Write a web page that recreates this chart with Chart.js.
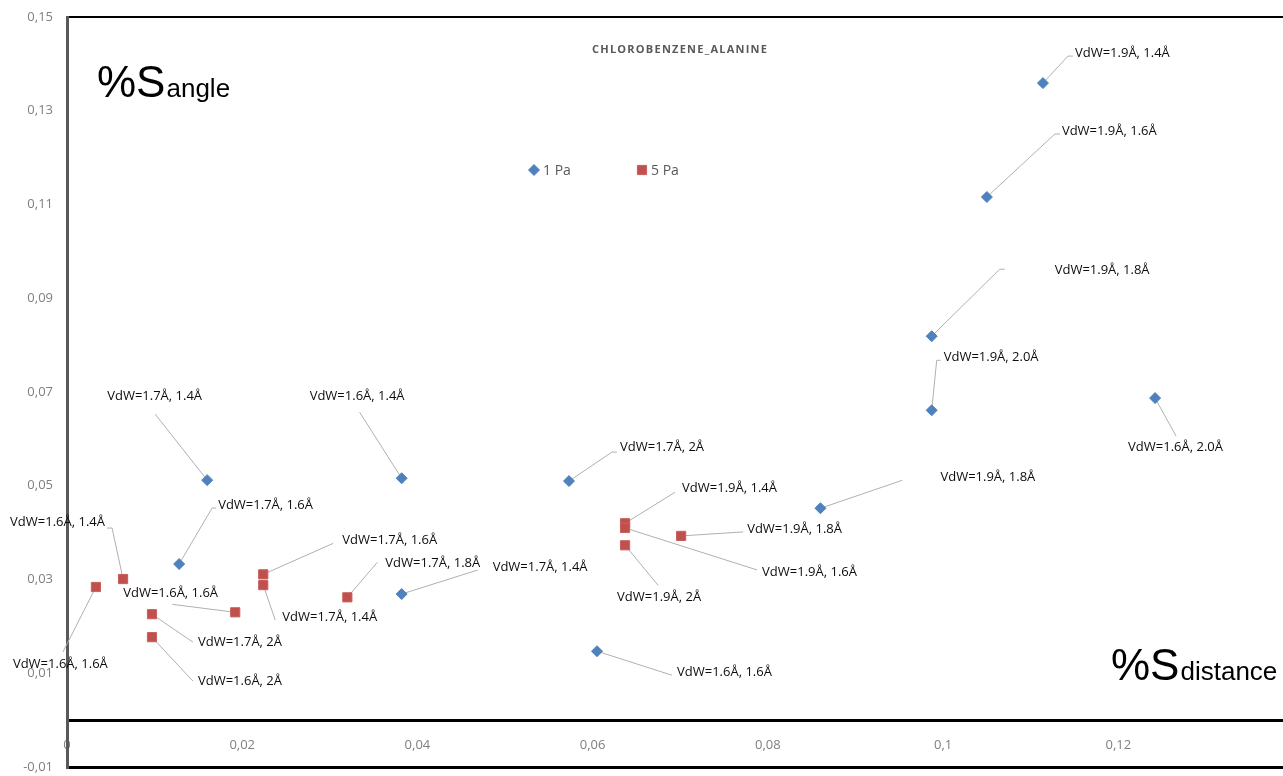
<!DOCTYPE html>
<html><head><meta charset="utf-8">
<script src="https://cdn.jsdelivr.net/npm/chart.js@4/dist/chart.umd.min.js"></script>
<style>html,body{margin:0;padding:0;background:#fff;overflow:hidden}#wrap{width:1283px;height:776px;position:relative}</style>
</head><body><div id="wrap"><canvas id="c"></canvas></div>
<script>
const chartTitle = 'CHLOROBENZENE_ALANINE';
const seriesNames = ['1 Pa', '5 Pa'];
const xAxisMain = '%S', xAxisSub = 'distance';
const yAxisMain = '%S', yAxisSub = 'angle';
const xTickValues = [0, 0.02, 0.04, 0.06, 0.08, 0.1, 0.12];
const xTickLabels = ['0', '0,02', '0,04', '0,06', '0,08', '0,1', '0,12'];
const yTickValues = [-0.01, 0.01, 0.03, 0.05, 0.07, 0.09, 0.11, 0.13, 0.15];
const yTickLabels = ['-0,01', '0,01', '0,03', '0,05', '0,07', '0,09', '0,11', '0,13', '0,15'];

// Series 1 Pa
const pa1X = [0.1114, 0.1050, 0.0987, 0.0987, 0.1242, 0.0860, 0.0605, 0.0573, 0.0382, 0.0160, 0.0128, 0.0382];
const pa1Y = [0.1359, 0.1116, 0.0819, 0.0661, 0.0687, 0.0452, 0.0147, 0.0510, 0.0516, 0.0512, 0.0333, 0.0269];
const pa1Labels = ['VdW=1.9Å, 1.4Å', 'VdW=1.9Å, 1.6Å', 'VdW=1.9Å, 1.8Å', 'VdW=1.9Å, 2.0Å', 'VdW=1.6Å, 2.0Å', 'VdW=1.9Å, 1.8Å',
  'VdW=1.6Å, 1.6Å', 'VdW=1.7Å, 2Å', 'VdW=1.6Å, 1.4Å', 'VdW=1.7Å, 1.4Å', 'VdW=1.7Å, 1.6Å', 'VdW=1.7Å, 1.4Å'];
// Series 5 Pa
const pa5X = [0.0033, 0.0064, 0.0097, 0.0097, 0.0192, 0.0224, 0.0224, 0.0320, 0.0637, 0.0637, 0.0637, 0.0701];
const pa5Y = [0.0284, 0.0301, 0.0226, 0.0177, 0.0230, 0.0311, 0.0288, 0.0262, 0.0420, 0.0410, 0.0373, 0.0393];
const pa5Labels = ['VdW=1.6Å, 1.6Å', 'VdW=1.6Å, 1.4Å', 'VdW=1.7Å, 2Å', 'VdW=1.6Å, 2Å', 'VdW=1.6Å, 1.6Å', 'VdW=1.7Å, 1.6Å',
  'VdW=1.7Å, 1.4Å', 'VdW=1.7Å, 1.8Å', 'VdW=1.9Å, 1.4Å', 'VdW=1.9Å, 1.6Å', 'VdW=1.9Å, 2Å', 'VdW=1.9Å, 1.8Å'];

// Label placement (pixel offsets from the point): [textDx, textDy, lineDx, lineDy, hook]
const pa1LabelPos = [[32,-30,25,-27,5],[75,-66,68,-63,5],[123,-66,68,-67,5],[12,-53,5,-50,4],[-27,49,21,38,0],[120,-31,82,-28,0],
  [80,21,75,24,0],[51,-34,43,-29,5],[-92,-82,-42,-66,0],[-100,-84,-52,-66,0],[39,-59,33,-56,4],[91,-27,76,-24,0]];
const pa5LabelPos = [[-83,77,-33,65,0],[-113,-57,-11,-51,-5],[46,28,41,28,0],[46,44,41,44,0],[-112,-19,-63,-8,0],[79,-34,70,-31,0],
  [19,32,12,35,0],[38,-34,30,-35,0],[57,-35,50,-31,0],[137,44,132,42,0],[-8,52,33,40,0],[66,-7,62,-4,0]];

const toPts = (xs, ys) => xs.map((x, i) => ({x, y: ys[i]}));
const allLabels = [pa1Labels, pa5Labels];
const allPos = [pa1LabelPos, pa5LabelPos];
const zeroPad = s => { s.paddingLeft = 0; s.paddingRight = 0; s.paddingTop = 0; s.paddingBottom = 0; };

const labelPlugin = {
  id: 'labels',
  beforeDatasetsDraw(chart) {
    const ctx = chart.ctx;
    ctx.save();
    ctx.strokeStyle = '#b0b0b0';
    ctx.lineWidth = 1;
    chart.data.datasets.forEach((ds, di) => {
      chart.getDatasetMeta(di).data.forEach((el, i) => {
        const p = allPos[di][i];
        ctx.beginPath();
        ctx.moveTo(el.x, el.y);
        ctx.lineTo(el.x + p[2], el.y + p[3]);
        if (p[4]) ctx.lineTo(el.x + p[2] + p[4], el.y + p[3]);
        ctx.stroke();
      });
    });
    ctx.restore();
  },
  afterDatasetsDraw(chart) {
    const ctx = chart.ctx;
    ctx.save();
    ctx.font = '13px "Open Sans"';
    ctx.fillStyle = '#0d0d0d';
    ctx.textAlign = 'left';
    ctx.textBaseline = 'middle';
    chart.data.datasets.forEach((ds, di) => {
      chart.getDatasetMeta(di).data.forEach((el, i) => {
        const p = allPos[di][i];
        ctx.fillText(allLabels[di][i], el.x + p[0], el.y + p[1]);
      });
    });
    // title
    ctx.font = 'bold 11px "Open Sans"';
    ctx.fillStyle = '#595959';
    ctx.letterSpacing = '0px';
    const w0 = ctx.measureText(chartTitle).width;
    ctx.letterSpacing = Math.max(0, (175 - w0) / (chartTitle.length - 1)).toFixed(2) + 'px';
    ctx.textAlign = 'left';
    ctx.fillText(chartTitle, 592, 50);
    ctx.letterSpacing = '0px';
    // legend
    const legendPos = [[534, 170], [642, 170]];
    chart.data.datasets.forEach((ds, di) => {
      const [lx, ly] = legendPos[di];
      ctx.fillStyle = ds.backgroundColor; ctx.strokeStyle = ds.borderColor; ctx.lineWidth = 1;
      Chart.helpers.drawPoint(ctx, {pointStyle: ds.pointStyle, radius: ds.pointRadius, borderWidth: 1, rotation: 0}, lx, ly);
      ctx.font = '14px "Open Sans"';
      ctx.fillStyle = '#595959';
      ctx.textBaseline = 'middle';
      ctx.fillText(ds.label, lx + 9, ly + 1);
    });
    // axis titles
    const drawAxisTitle = (main, sub, x, y) => {
      ctx.fillStyle = '#000';
      ctx.textBaseline = 'alphabetic';
      ctx.font = '44px "Liberation Sans"';
      ctx.fillText(main, x, y);
      const mw = ctx.measureText(main).width;
      ctx.font = '26px "Liberation Sans"';
      ctx.fillText(sub, x + mw + 1, y);
    };
    drawAxisTitle(yAxisMain, yAxisSub, 97, 97);
    drawAxisTitle(xAxisMain, xAxisSub, 1111, 680);
    ctx.restore();
  }
};

new Chart(document.getElementById('c'), {
  type: 'scatter',
  data: {
    datasets: [
      {label: seriesNames[0], data: toPts(pa1X, pa1Y), pointStyle: 'rectRot', pointRadius: 5.5,
       backgroundColor: '#4F81BD', borderColor: '#4F81BD', borderWidth: 1},
      {label: seriesNames[1], data: toPts(pa5X, pa5Y), pointStyle: 'rect', pointRadius: 6.5,
       backgroundColor: '#C0504D', borderColor: '#C8605D', borderWidth: 1}
    ]
  },
  options: {
    responsive: true, maintainAspectRatio: false, animation: false,
    layout: {autoPadding: false, padding: {left: 0, right: 0, top: 17, bottom: 9}},
    plugins: {legend: {display: false}, tooltip: {enabled: false}},
    scales: {
      x: {
        type: 'linear', min: 0, max: 0.1388, position: {y: 0},
        afterBuildTicks: s => { s.ticks = xTickValues.map(v => ({value: v})); },
        afterFit: zeroPad,
        ticks: {callback: (v, i) => xTickLabels[i], color: '#7f7f7f', font: {family: 'Open Sans', size: 13}, padding: 17, maxRotation: 0, autoSkip: false},
        grid: {display: false, drawTicks: false},
        border: {display: true, color: '#000', width: 3}
      },
      y: {
        type: 'linear', min: -0.01, max: 0.15, position: 'left',
        afterBuildTicks: s => { s.ticks = yTickValues.map(v => ({value: v})); },
        afterFit: s => { s.width = 67; zeroPad(s); },
        ticks: {callback: (v, i) => yTickLabels[i], color: '#7f7f7f', font: {family: 'Open Sans', size: 13}, padding: 14, autoSkip: false},
        grid: {drawTicks: false,
          color: c => (c.tick && (c.tick.value === 0.15 || c.tick.value === -0.01)) ? '#000' : 'rgba(0,0,0,0)',
          lineWidth: c => (c.tick && c.tick.value === 0.15) ? 2 : 3},
        border: {display: true, color: '#595959', width: 3}
      }
    }
  },
  plugins: [labelPlugin]
});
</script></body></html>
